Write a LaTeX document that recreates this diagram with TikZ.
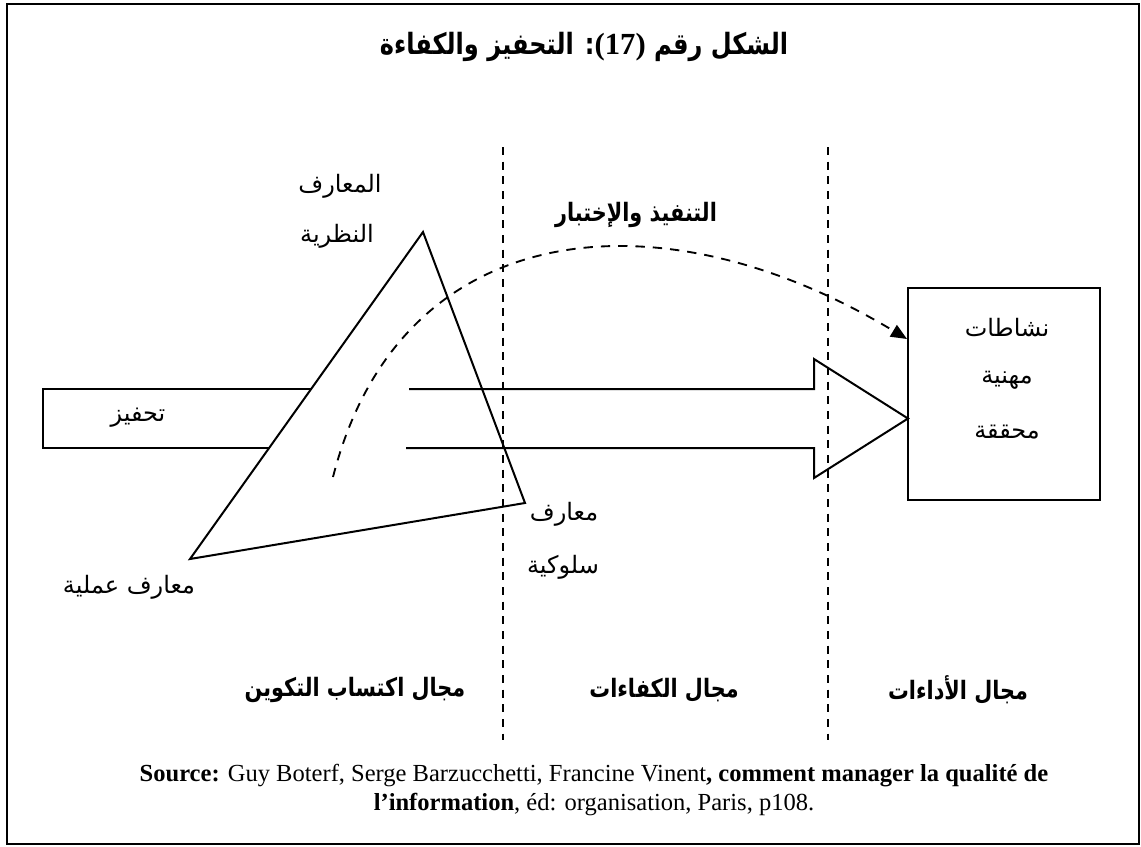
\documentclass[tikz,border=0pt]{standalone}
\usepackage{fontspec}
\setmainfont{Liberation Serif}
\newfontfamily\arabicfont[Script=Arabic]{DejaVu Sans}
\newfontfamily\arabichead[Script=Arabic, FakeStretch=0.82]{DejaVu Sans}
\TeXXeTstate=1
\usetikzlibrary{arrows.meta}
\begin{document}
\begin{tikzpicture}[x=0.75pt,y=-0.75pt,
  lbl/.style={font=\fontsize{18}{21}\arabicfont, inner sep=0pt},
  zone/.style={font=\fontsize{19}{22}\arabichead\bfseries, inner sep=0pt},
  sep/.style={line width=1.4pt, dash pattern=on 6pt off 5pt},
  outline/.style={line width=1.5pt, line join=miter}]
\useasboundingbox (0,0) rectangle (1141,846);
\draw [line width=1pt] (7,4) rectangle (1139,844);

% Titel
\node (title) at (584,47) {\fontsize{22}{26}\arabichead\bfseries\beginR الشكل رقم \beginL{\fontsize{23}{26}\rmfamily\bfseries(17)}\endL: التحفيز والكفاءة\endR};

% Trennlinien
\draw [sep] (503,147) -- (503,740);
\draw [sep] (828,147) -- (828,740);

% Dreieck
\coordinate (apex) at (423,232);
\coordinate (right) at (525,503);
\coordinate (left) at (190,559);
\draw [outline] (apex) -- (right) -- (left) -- cycle;

% Pfeil
\draw [outline] (311,389) -- (43,389) -- (43,448) -- (269,448);
\draw [outline] (409,389) -- (814,389) -- (814,359) -- (908,418.5) -- (814,478) -- (814,448) -- (406,448);
\node [lbl] (motiv) at (138,418) {\beginR تحفيز\endR};

% Kasten
\node [draw, line width=1.5pt, minimum width=144pt, minimum height=159pt, inner sep=0pt] (box) at (1004,394) {};
\node [lbl] (act1) at (1007,328) {\beginR نشاطات\endR};
\node [lbl] (act2) at (1007,380) {\beginR مهنية\endR};
\node [lbl] (act3) at (1007,432) {\beginR محققة\endR};

% Bogen
\coordinate (arcstart) at (333,477);
\coordinate (arcend) at (box.west |- 0,339);
\draw [line width=1.4pt, dash pattern=on 7pt off 6pt, -{Triangle[length=12pt,width=10pt]}]
  (arcstart) .. controls (400,215) and (660,190) .. (arcend);
\node [zone] (exec) at (636,215) {\beginR التنفيذ والإختبار\endR};

% Ecken
\node [lbl] (theo1) at (340,186) {\beginR المعارف\endR};
\node [lbl] (theo2) at (337,236) {\beginR النظرية\endR};
\node [lbl] (prac) at (129,587) {\beginR معارف عملية\endR};
\node [lbl] (beh1) at (564,514) {\beginR معارف\endR};
\node [lbl] (beh2) at (563,567) {\beginR سلوكية\endR};

% Bereiche
\node [zone] (zone1) at (355,690) {\beginR مجال اكتساب التكوين\endR};
\node [zone] (zone2) at (664,690) {\beginR مجال الكفاءات\endR};
\node [zone] (zone3) at (958,690) {\beginR مجال الأداءات\endR};

% Quelle
\node [align=center, font=\fontsize{18.4}{21.75}\selectfont] (source) at (594,790)
  {\textbf{Source:} Guy Boterf, Serge Barzucchetti, Francine Vinent\textbf{, comment manager la qualité de}\\
   \textbf{l’information}, éd: organisation, Paris, p108.};
\end{tikzpicture}
\end{document}
